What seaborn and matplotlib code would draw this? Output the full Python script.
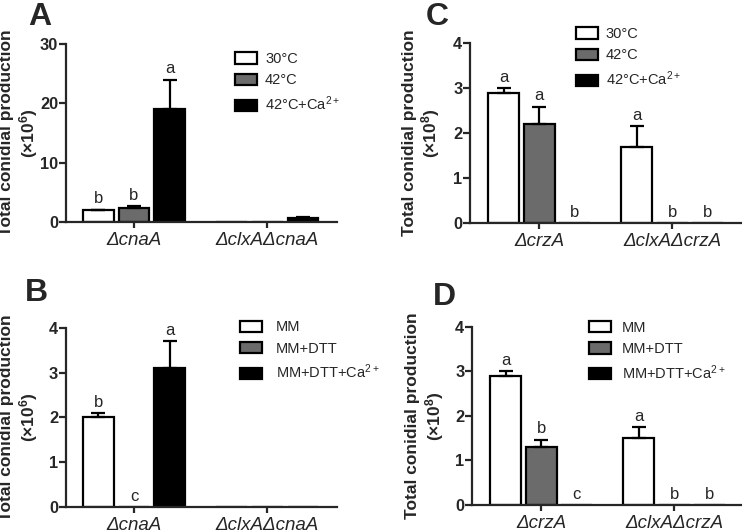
import numpy as np
import pandas as pd
import matplotlib
matplotlib.use("Agg")
import matplotlib.pyplot as plt
from matplotlib.patches import Patch
import seaborn as sns

sns.set_style("ticks")
plt.rcParams['font.family'] = ['Liberation Sans', 'DejaVu Sans']
plt.rcParams['mathtext.fontset'] = 'custom'
plt.rcParams['mathtext.rm'] = 'Liberation Sans'
plt.rcParams['mathtext.it'] = 'Liberation Sans:italic'
plt.rcParams['mathtext.bf'] = 'Liberation Sans:bold'

# ==========================================
# DATA
# ==========================================
strains_cna = ['ΔcnaA', 'ΔclxAΔcnaA']
strains_crz = ['ΔcrzA', 'ΔclxAΔcrzA']
temp_conds = ['30°C', '42°C', '42°C+Ca$^{2+}$']
dtt_conds = ['MM', 'MM+DTT', 'MM+DTT+Ca$^{2+}$']
bar_colors = ['white', '#6b6b6b', 'black']

# rows = strains, cols = conditions
a_mean = [[2.0, 2.3, 19.0], [0.0, 0.0, 0.6]]
a_err = [[0.1, 0.4, 5.0], [0.0, 0.0, 0.2]]
a_letters = [['b', 'b', 'a'], ['', '', '']]

c_mean = [[2.9, 2.2, 0.0], [1.7, 0.0, 0.0]]
c_err = [[0.1, 0.38, 0.0], [0.45, 0.0, 0.0]]
c_letters = [['a', 'a', 'b'], ['a', 'b', 'b']]

b_mean = [[2.0, 0.0, 3.1], [0.0, 0.0, 0.0]]
b_err = [[0.1, 0.0, 0.6], [0.0, 0.0, 0.0]]
b_letters = [['b', 'c', 'a'], ['', '', '']]

d_mean = [[2.9, 1.3, 0.0], [1.5, 0.0, 0.0]]
d_err = [[0.1, 0.17, 0.0], [0.25, 0.0, 0.0]]
d_letters = [['a', 'b', 'c'], ['a', 'b', 'b']]


def draw_panel(ax, strains, conds, means, errs, letters, ymax, yticks, expo,
               xlim, leg_xy, textpad, label_x):
    rows = []
    for i, s in enumerate(strains):
        for j, c in enumerate(conds):
            rows.append({'strain': s, 'cond': c, 'value': means[i][j]})
    df = pd.DataFrame(rows)
    pal = dict(zip(conds, bar_colors))
    sns.barplot(data=df, x='strain', y='value', hue='cond', order=strains,
                hue_order=conds, palette=pal, edgecolor='black', linewidth=1.6,
                width=0.8, gap=0.13, errorbar=None, legend=False, ax=ax)

    # bars sorted left to right -> strain-major order
    bars = sorted(ax.patches, key=lambda p: p.get_x())
    flat_m = np.array(means).ravel()
    flat_e = np.array(errs).ravel()
    flat_l = np.array(letters).ravel()
    for p, m, e, l in zip(bars, flat_m, flat_e, flat_l):
        xc = p.get_x() + p.get_width() / 2
        if e > 0:
            ax.errorbar(xc, m, yerr=[[0], [e]], fmt='none', ecolor='black',
                        elinewidth=1.6, capsize=4.7, capthick=1.6, zorder=1)
        if l:
            ax.annotate(l, (xc, m + e), xytext=(0, 2.5), textcoords='offset points',
                        ha='center', va='bottom', fontsize=12)

    ax.set_ylim(0, ymax)
    ax.set_yticks(yticks)
    ax.set_xlim(*xlim)
    ax.set_xlabel('')
    ax.set_ylabel('Total conidial production\n(×10$^{\\mathbf{%d}}$)' % expo,
                  fontsize=12.5, fontweight='bold', linespacing=1.15)
    ax.yaxis.set_label_coords(label_x, 0.5)
    sns.despine(ax=ax)
    for sp in ['left', 'bottom']:
        ax.spines[sp].set_linewidth(1.6)
    ax.tick_params(axis='y', width=1.6, length=5, pad=0.5, labelsize=11.8)
    ax.tick_params(axis='x', width=1.6, length=4.5, pad=2.5, labelsize=12.5)
    for lbl in ax.get_yticklabels():
        lbl.set_fontweight('bold')
    for lbl in ax.get_xticklabels():
        lbl.set_fontstyle('italic')
        lbl.set_fontsize(13.5)

    handles = [Patch(facecolor=col, edgecolor='black', linewidth=1.6, label=c)
               for c, col in zip(conds, bar_colors)]
    ax.legend(handles=handles, loc='upper left', bbox_to_anchor=leg_xy,
              bbox_transform=ax.figure.transFigure, frameon=False, fontsize=10.5,
              handlelength=1.5, handleheight=0.8, labelspacing=0.5,
              borderpad=0, borderaxespad=0, handletextpad=textpad)


fig = plt.figure(figsize=(7.42, 5.32), dpi=100)
axA = fig.add_axes([0.0889, 0.5827, 0.365, 0.3346])
axC = fig.add_axes([0.6334, 0.5808, 0.366, 0.3383])
axB = fig.add_axes([0.0889, 0.0470, 0.365, 0.3365])
axD = fig.add_axes([0.6361, 0.0508, 0.366, 0.3346])

draw_panel(axA, strains_cna, temp_conds, a_mean, a_err, a_letters, 30, [0, 10, 20, 30], 6,
           (-0.51, 1.52), (0.317, 0.902), 0.55, -0.096)
draw_panel(axC, strains_crz, temp_conds, c_mean, c_err, c_letters, 4, [0, 1, 2, 3, 4], 8,
           (-0.52, 1.52), (0.776, 0.949), 0.55, -0.103)
draw_panel(axB, strains_cna, dtt_conds, b_mean, b_err, b_letters, 4, [0, 1, 2, 3, 4], 6,
           (-0.51, 1.52), (0.323, 0.398), 1.0, -0.096)
draw_panel(axD, strains_crz, dtt_conds, d_mean, d_err, d_letters, 4, [0, 1, 2, 3, 4], 8,
           (-0.52, 1.52), (0.794, 0.397), 0.75, -0.096)

for x, y, t in [(0.038, 0.996, 'A'), (0.574, 0.996, 'C'),
                (0.034, 0.478, 'B'), (0.584, 0.470, 'D')]:
    fig.text(x, y, t, fontsize=23, fontweight='bold', va='top')

fig.savefig('out.png', dpi=100)
